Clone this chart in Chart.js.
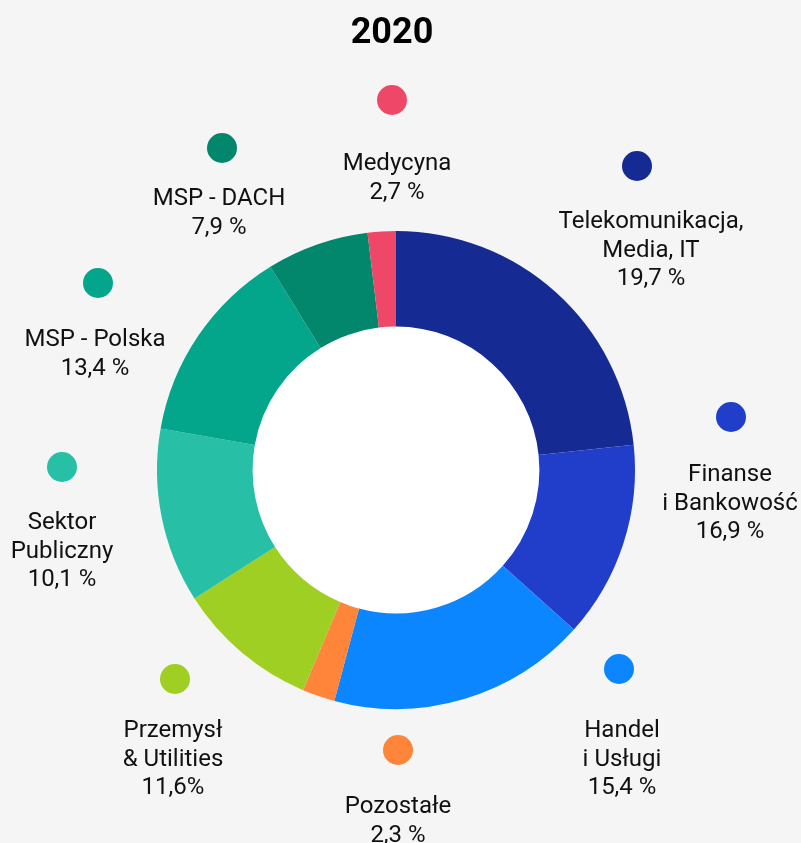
<!DOCTYPE html>
<html>
<head>
<meta charset="utf-8">
<script src="https://cdn.jsdelivr.net/npm/chart.js@4/dist/chart.umd.min.js"></script>
<style>
  html, body { margin: 0; padding: 0; background: #f5f5f5; }
  #wrap { width: 801px; height: 843px; }
</style>
</head>
<body>
<div id="wrap"><canvas id="myChart" width="801" height="843"></canvas></div>
<script>
// slice sizes (share of the ring)
const categories = ['Telekomunikacja, Media, IT', 'Finanse i Bankowość', 'Handel i Usługi', 'Pozostałe',
    'Przemysł & Utilities', 'Sektor Publiczny', 'MSP - Polska', 'MSP - DACH', 'Medycyna'];
const sliceValues = [23.3, 13.3, 17.5, 2.2, 9.6, 11.8, 13.4, 6.9, 1.9];
// text printed beside each slice
const labelLines = [
    ['Telekomunikacja,', 'Media, IT', '19,7 %'],
    ['Finanse', 'i Bankowość', '16,9 %'],
    ['Handel', 'i Usługi', '15,4 %'],
    ['Pozostałe', '2,3 %'],
    ['Przemysł', '& Utilities', '11,6%'],
    ['Sektor', 'Publiczny', '10,1 %'],
    ['MSP - Polska', '13,4 %'],
    ['MSP - DACH', '7,9 %'],
    ['Medycyna', '2,7 %']
];
const colors = ['#162a93', '#213ecb', '#0b86fe', '#fe853a', '#9fcf22', '#27bfa6', '#03a68b', '#02876d', '#ef4768'];

// where the dot + text block of each label sits
const labelLayout = [
    { dot: [637, 166], tx: 651, ty: 228 },
    { dot: [731, 417], tx: 730, ty: 481 },
    { dot: [619, 669], tx: 622, ty: 737 },
    { dot: [398, 750], tx: 398, ty: 813 },
    { dot: [175, 679], tx: 173, ty: 737 },
    { dot: [62, 467], tx: 62, ty: 529 },
    { dot: [98, 283], tx: 95, ty: 346 },
    { dot: [222, 148], tx: 219, ty: 205 },
    { dot: [392, 100], tx: 397, ty: 170 }
];

const ringExtras = {
    id: 'ringExtras',
    beforeDatasetsDraw(chart) {
        const ctx = chart.ctx;
        const arc = chart.getDatasetMeta(0).data[0];
        ctx.save();
        ctx.fillStyle = '#ffffff';
        ctx.beginPath();
        ctx.arc(arc.x, arc.y, arc.innerRadius + 1, 0, Math.PI * 2);
        ctx.fill();
        ctx.restore();
    },
    afterDraw(chart) {
        const ctx = chart.ctx;
        ctx.save();
        ctx.fillStyle = '#000000';
        ctx.textAlign = 'center';
        ctx.textBaseline = 'alphabetic';
        ctx.font = 'bold 36px Roboto';
        ctx.fillText('2020', 392, 43);

        ctx.font = '24px Roboto';
        labelLayout.forEach((p, i) => {
            ctx.fillStyle = colors[i];
            ctx.beginPath();
            ctx.arc(p.dot[0], p.dot[1], 15, 0, Math.PI * 2);
            ctx.fill();
            ctx.fillStyle = '#111111';
            labelLines[i].forEach((line, j) => {
                ctx.fillText(line, p.tx, p.ty + j * 28.7);
            });
        });
        ctx.restore();
    }
};

const ctx = document.getElementById('myChart').getContext('2d');
const myChart = new Chart(ctx, {
    type: 'doughnut',
    data: {
        labels: categories,
        datasets: [{
            data: sliceValues,
            backgroundColor: colors,
            borderWidth: 0
        }]
    },
    options: {
        responsive: false,
        animation: false,
        events: [],
        cutout: '60%',
        layout: {
            padding: { left: 157, right: 166, top: 231, bottom: 134 }
        },
        plugins: {
            legend: { display: false },
            tooltip: { enabled: false },
            title: { display: false }
        }
    },
    plugins: [ringExtras]
});
</script>
</body>
</html>
